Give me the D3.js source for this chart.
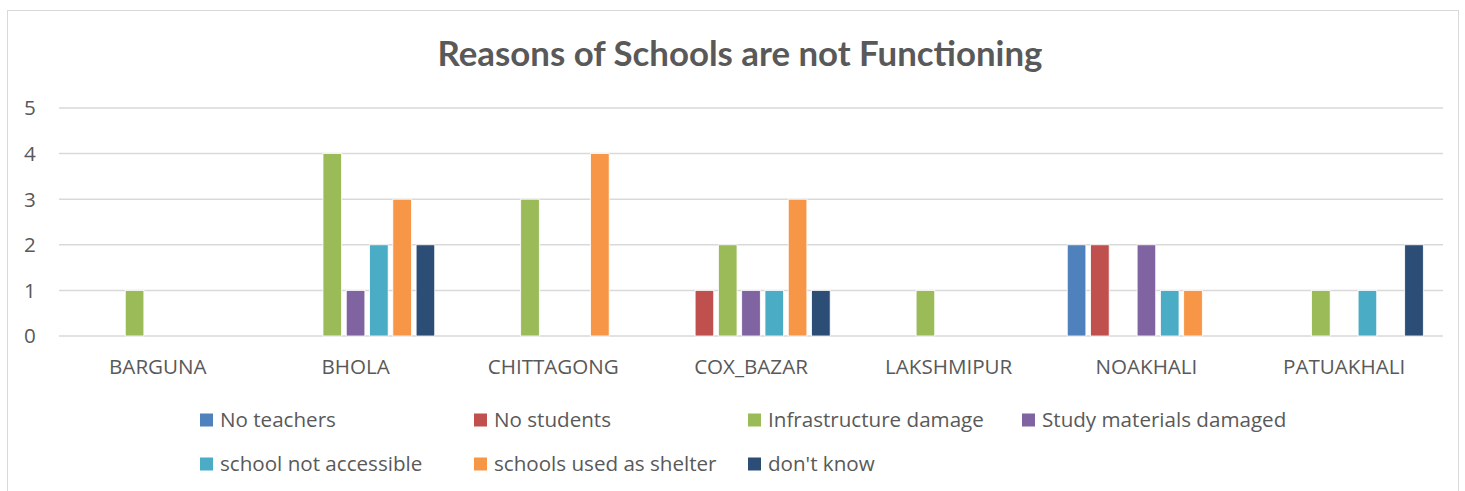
<!DOCTYPE html>
<html><head><meta charset="utf-8">
<script src="https://cdn.jsdelivr.net/npm/d3@7"></script>
<style>body{margin:0;background:#fff}svg{display:block}</style>
</head><body>
<svg id="c" width="1465" height="491"></svg>
<script>
const categories = ["BARGUNA","BHOLA","CHITTAGONG","COX_BAZAR","LAKSHMIPUR","NOAKHALI","PATUAKHALI"];
const seriesNames = ["No teachers","No students","Infrastructure damage","Study materials damaged","school not accessible","schools used as shelter","don't know"];
const noTeachers   = [0,0,0,0,0,2,0];
const noStudents   = [0,0,0,1,0,2,0];
const infraDamage  = [1,4,3,2,1,0,1];
const studyDamaged = [0,1,0,1,0,2,0];
const notAccessible= [0,2,0,1,0,1,1];
const usedShelter  = [0,3,4,3,0,1,0];
const dontKnow     = [0,2,0,1,0,0,2];
const yTicks = [0,1,2,3,4,5];
const title = "Reasons of Schools are not Functioning";
const colors = ["#4F81BD","#C0504D","#9BBB59","#8064A2","#4BACC6","#F79646","#2C4D75"];

const seriesValues = [noTeachers,noStudents,infraDamage,studyDamaged,notAccessible,usedShelter,dontKnow];
const svg = d3.select("#c");
const font = "'Open Sans', Lato, sans-serif";
const tfont = "Lato, 'Open Sans', sans-serif";
const txt = "#595959";
const fs = 20.6;

// chart border
svg.append("rect").attr("x",7.5).attr("y",10.5).attr("width",1451).attr("height",495)
  .attr("fill","#fff").attr("stroke","#d9d9d9").attr("stroke-width",1);

const x0 = d3.scaleBand().domain(categories).range([59,1443]).padding(0);
const groupW = 163;
const x1 = d3.scaleBand().domain(d3.range(seriesNames.length)).range([0,groupW]).paddingInner(0.2).paddingOuter(0.1);
const y = d3.scaleLinear().domain([0,5]).range([336,108]);

// gridlines
svg.append("g").selectAll("line").data(yTicks).join("line")
  .attr("x1",59).attr("x2",1443).attr("y1",d=>y(d)).attr("y2",d=>y(d))
  .attr("stroke","#d9d9d9").attr("stroke-width",1.5);

// y labels
svg.append("g").selectAll("text").data(yTicks).join("text")
  .attr("x",30).attr("y",d=>y(d)).attr("dy","0.36em").attr("text-anchor","middle")
  .attr("font-family",font).attr("font-size",fs).attr("fill",txt).text(d=>d);

// bars
const g = svg.append("g");
categories.forEach((c,ci)=>{
  const gx = x0(c)+x0.bandwidth()/2-groupW/2;
  seriesValues.forEach((vals,si)=>{
    const v = vals[ci];
    if(!v) return;
    g.append("rect").attr("x",gx+x1(si)).attr("width",x1.bandwidth())
      .attr("y",y(v)).attr("height",y(0)-y(v))
      .attr("fill",colors[si]).attr("stroke","#fff").attr("stroke-width",0.8);
  });
});

// category labels
svg.append("g").selectAll("text").data(categories).join("text")
  .attr("x",d=>x0(d)+x0.bandwidth()/2).attr("y",374).attr("text-anchor","middle")
  .attr("font-family",font).attr("font-size",fs).attr("fill",txt).text(d=>d);

// title
const t = svg.append("text").attr("x",740).attr("y",66).attr("text-anchor","middle")
  .attr("font-family",tfont).attr("font-weight","bold").attr("font-size",32).attr("fill",txt).text(title);
const tw = t.node().getComputedTextLength();
t.attr("font-size", 32*605/tw);

// legend
const legX = [200,474,748,1022];
const legY = [420,464];
seriesNames.forEach((s,i)=>{
  const col = i<4 ? i : i-4, row = i<4?0:1;
  const lg = svg.append("g").attr("transform",`translate(${legX[col]},${legY[row]})`);
  lg.append("rect").attr("x",0).attr("y",-6.5).attr("width",13).attr("height",13).attr("fill",colors[i]);
  lg.append("text").attr("x",20).attr("y",0).attr("dy","0.36em")
    .attr("font-family",font).attr("font-size",fs).attr("fill",txt).text(s);
});
</script>
</body></html>
